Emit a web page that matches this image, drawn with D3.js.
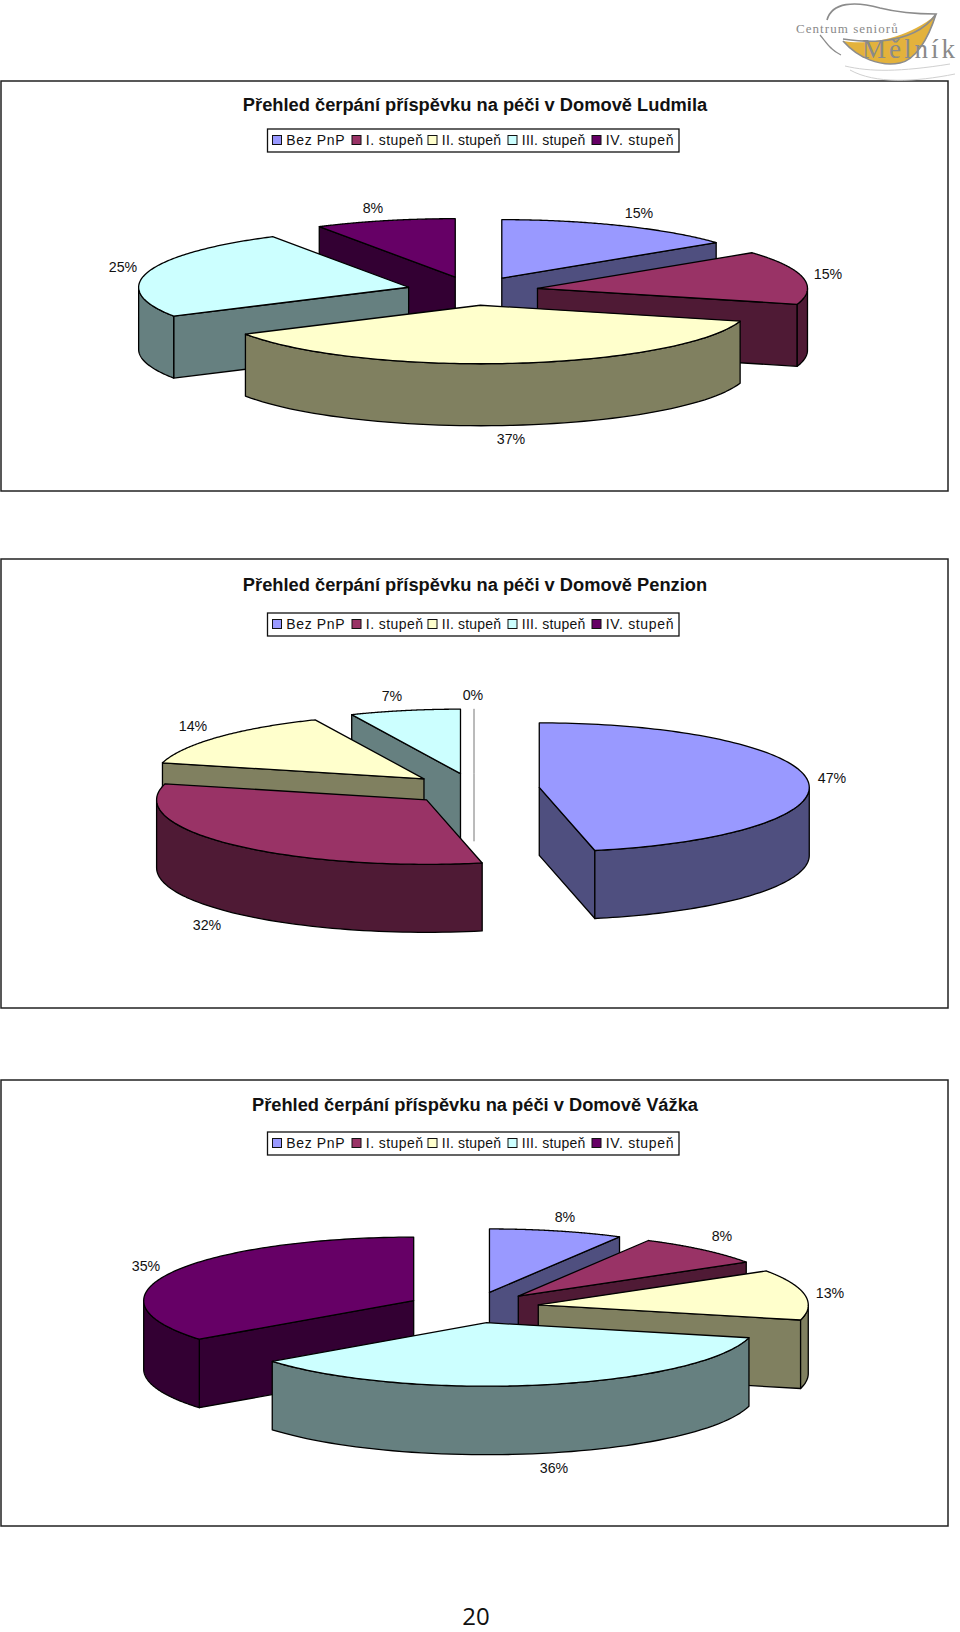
<!DOCTYPE html>
<html><head><meta charset="utf-8">
<style>html,body{margin:0;padding:0;background:#fff}svg{display:block}text{font-family:"Liberation Sans",Arial,sans-serif;fill:#111}</style>
<script src="https://cdn.jsdelivr.net/npm/d3@7/dist/d3.min.js"></script>
</head><body><svg id="c" width="960" height="1632"></svg>
<script>
const categories = ["Bez PnP","I. stupeň","II. stupeň","III. stupeň","IV. stupeň"];
const ludmilaValues = [14.6,14.8,37.4,24.8,8.4];
const penzionValues = [46.7,32.3,14.4,6.6,0];
const vazkaValues = [8,8,12.8,35.8,35.4];
const topColors = ["#9999FF","#993366","#FFFFCC","#CCFFFF","#660066"];
const sideColors = ["#4F4F7F","#4F1A35","#808060","#668080","#330033"];

const charts = [
 {title:"Přehled čerpání příspěvku na péči v Domově Ludmila", values:ludmilaValues,
  frame:[81,491], titleY:110.5, legendY:129, cx:472.5, cy:291, rx:270, ry:58.5, depth:62, explode:.245,
  labels:[[639,218],[828,279],[511,444],[123,272],[373,213]]},
 {title:"Přehled čerpání příspěvku na péči v Domově Penzion", values:penzionValues,
  frame:[559,1008], titleY:590.5, legendY:613, cx:474, cy:789, rx:270, ry:64.5, depth:68, explode:.243,
  labels:[[832,783],[207,930],[193,731],[392,701],[473,700]]},
 {title:"Přehled čerpání příspěvku na péči v Domově Vážka", values:vazkaValues,
  frame:[1080,1526], titleY:1110.5, legendY:1132, cx:473, cy:1307.5, rx:270, ry:63.5, depth:68.5, explode:.245,
  labels:[[565,1222],[722,1241],[830,1298],[554,1473],[146,1271]]}
];

const svg = d3.select("#c");
const pie = d3.pie().sort(null).value(d=>d);
const line = d3.line();
const pct = d3.format(".0f");

charts.forEach(ch=>{
  const g = svg.append("g");
  g.append("rect").attr("x",1).attr("y",ch.frame[0]).attr("width",947).attr("height",ch.frame[1]-ch.frame[0])
    .attr("fill","#fff").attr("stroke","#222").attr("stroke-width",1.5);
  g.append("text").attr("x",475).attr("y",ch.titleY).attr("text-anchor","middle")
    .attr("font-size",18.3).attr("font-weight","bold").text(ch.title);

  // legend
  const ly = ch.legendY;
  g.append("rect").attr("x",267.5).attr("y",ly).attr("width",411.5).attr("height",23)
    .attr("fill","#fff").attr("stroke","#111").attr("stroke-width",1.3);
  const swatchLeft = [272.5,352,428,508,592];
  const textWidth = [58.3,57.3,59.3,63.5,67.7];
  categories.forEach((c,i)=>{
    g.append("rect").attr("x",swatchLeft[i]).attr("y",ly+6.5).attr("width",9).attr("height",9)
      .attr("fill",topColors[i]).attr("stroke","#111").attr("stroke-width",1);
    g.append("text").attr("x",swatchLeft[i]+13.8).attr("y",ly+15.8).attr("font-size",14)
      .attr("textLength",textWidth[i]).attr("lengthAdjust","spacing").text(c);
  });

  // pie
  const X = d3.scaleLinear().domain([-1,1]).range([ch.cx-ch.rx,ch.cx+ch.rx]);
  const Y = d3.scaleLinear().domain([-1,1]).range([ch.cy-ch.ry,ch.cy+ch.ry]);
  const arcs = pie(ch.values).map((a,i)=>{
    const mid=(a.startAngle+a.endAngle)/2;
    return {...a,i,mid,ox:Math.sin(mid)*ch.explode,oy:-Math.cos(mid)*ch.explode};
  });
  const order = arcs.slice().sort((a,b)=>a.oy-b.oy);
  const P = (a,t,r=1,dz=0)=>[X(a.ox+r*Math.sin(t)),Y(a.oy-r*Math.cos(t))+dz];
  order.forEach(a=>{
    const sg=g.append("g");
    const stroke="#000", sw=1.3;
    if(a.endAngle-a.startAngle<1e-6){ // empty slice: only a hairline remains
      const t=a.startAngle;
      sg.append("path").attr("d",line([P(a,t),P(a,t,0),P(a,t,0,ch.depth)])).attr("fill","none").attr("stroke","#777").attr("stroke-width",1);
      return;
    }
    const wall=(pts)=>{
      const full=pts.concat(pts.slice().reverse().map(p=>[p[0],p[1]+ch.depth]));
      sg.append("path").attr("d",line(full)+"Z").attr("fill",sideColors[a.i]).attr("stroke",stroke).attr("stroke-width",sw).attr("stroke-linejoin","round");
    };
    if(Math.sin(a.startAngle)<-1e-6) wall([P(a,a.startAngle,0),P(a,a.startAngle)]);
    if(Math.sin(a.endAngle)>1e-6) wall([P(a,a.endAngle),P(a,a.endAngle,0)]);
    const lo=Math.max(a.startAngle,Math.PI/2), hi=Math.min(a.endAngle,Math.PI*1.5);
    if(hi>lo){
      wall(d3.range(0,61).map(k=>P(a,lo+(hi-lo)*k/60)));
    }
    const rim=d3.range(0,121).map(k=>P(a,a.startAngle+(a.endAngle-a.startAngle)*k/120));
    sg.append("path").attr("d",line([P(a,0,0)].concat(rim))+"Z").attr("fill",topColors[a.i]).attr("stroke",stroke).attr("stroke-width",sw).attr("stroke-linejoin","round");
  });

  // value labels
  ch.values.forEach((v,i)=>{
    g.append("text").attr("x",ch.labels[i][0]).attr("y",ch.labels[i][1]).attr("text-anchor","middle").attr("font-size",14.2).text(pct(v)+"%");
  });
});

// logo
const logo = svg.append("g");
logo.append("path").attr("d","M843 41 C866 45 905 40 936 15 C928 40 915 60 900 63 C880 67 858 58 843 41Z").attr("fill","#E3B23C").attr("stroke","none");
logo.append("path").attr("d","M827 20 C832 2 855 1 880 8 C900 13 920 14 936 14 C925 30 905 39 880 41 C865 42 850 40 843 39").attr("fill","none").attr("stroke","#8c8c8c").attr("stroke-width",1.6);
logo.append("path").attr("d","M936 14 C928 40 915 60 900 63 C880 67 858 58 843 41").attr("fill","none").attr("stroke","#8c8c8c").attr("stroke-width",1.6);
logo.append("path").attr("d","M820 35 C826 42 830 50 841 55").attr("fill","none").attr("stroke","#8c8c8c").attr("stroke-width",1.2);
logo.append("path").attr("d","M845 66 C870 72 900 72 950 64 M850 70 C875 84 915 82 955 74").attr("fill","none").attr("stroke","#d0d0d0").attr("stroke-width",1);
logo.append("text").attr("x",796).attr("y",33).attr("font-size",13).attr("letter-spacing",1.05).style("font-family","'Liberation Serif',serif").style("fill","#8a8a8a").text("Centrum seniorů");
logo.append("text").attr("x",862).attr("y",58).attr("font-size",27).attr("letter-spacing",3).style("font-family","'Liberation Serif',serif").style("fill","#8a8a8a").text("Mělník");

// page number
svg.append("text").attr("x",476).attr("y",1624.9).attr("text-anchor","middle").attr("font-size",24).style("font-family","'Open Sans',sans-serif").text("20");
</script></body></html>
